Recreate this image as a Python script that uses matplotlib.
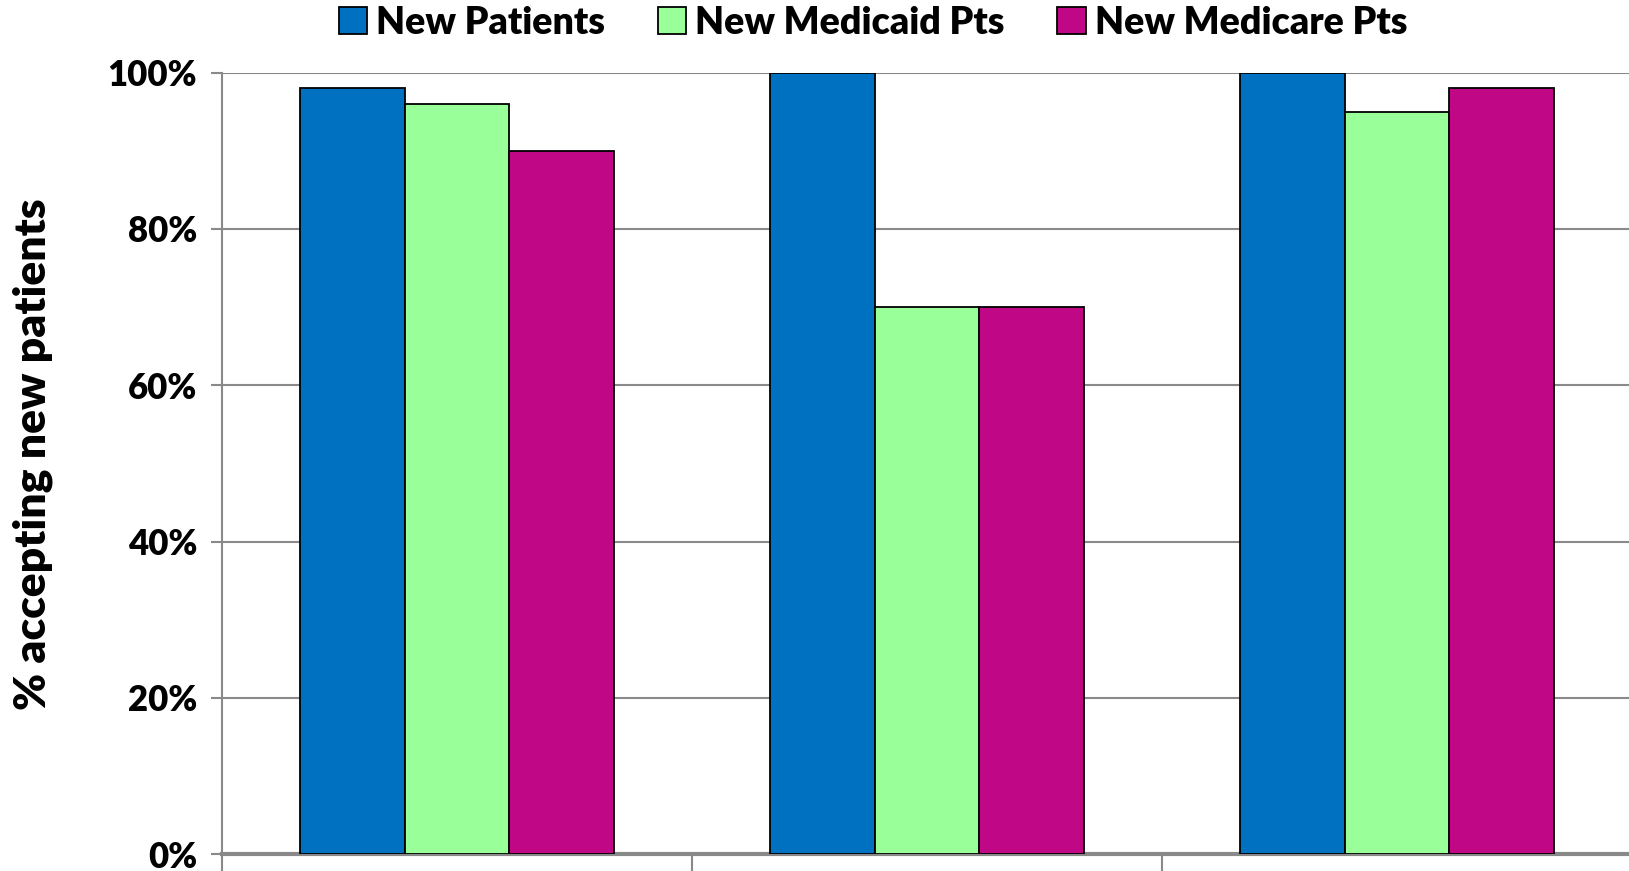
import matplotlib
matplotlib.use("Agg")
import matplotlib.pyplot as plt
import numpy as np
from matplotlib.ticker import FuncFormatter
from matplotlib.patches import Patch

categories = ["Primary Care", "Specialists", "All Physicians"]
series_names = ["New Patients", "New Medicaid Pts", "New Medicare Pts"]
new_patients = [98, 100, 100]
new_medicaid = [96, 70, 95]
new_medicare = [90, 70, 98]

blue = '#0070c0'
green = '#99ff99'
magenta = '#c00886'
gray = '#898989'

plt.rcParams['font.family'] = ['Lato', 'DejaVu Sans']
wt = 'heavy'

fig = plt.figure(figsize=(16.29, 8.71), dpi=100)
ax = fig.add_axes([0.1363, 0.0195, 0.8655, 0.897])

x = np.arange(len(categories))
w = 0.2225
for i, (vals, col) in enumerate(zip([new_patients, new_medicaid, new_medicare],
                                    [blue, green, magenta])):
    ax.bar(x + (i - 1) * w, vals, w, color=col, edgecolor='black',
           linewidth=1.3, zorder=3, label=series_names[i])

ax.set_xlim(-0.5, len(categories) - 0.5)
ax.set_ylim(0, 100)
ax.set_yticks(range(0, 101, 20))
ax.yaxis.set_major_formatter(FuncFormatter(lambda y, pos: "%d%%" % y))
ax.yaxis.grid(True, color=gray, linewidth=1.5, zorder=0)
for lab in ax.get_yticklabels():
    lab.set_fontweight(wt)
    lab.set_fontsize(25)
ax.tick_params(axis='y', length=8, width=1.5, color=gray, pad=10)

# category separators below axis
ax.set_xticks(np.arange(len(categories) + 1) - 0.5)
ax.set_xticklabels([])
ax.tick_params(axis='x', length=40, width=1.5, color=gray, direction='out')
for i, c in enumerate(categories):
    ax.text(i, -3.9, c, ha='center', va='top', fontsize=26,
            fontweight=wt, transform=ax.transData, clip_on=False)

for s in ['top', 'right']:
    ax.spines[s].set_visible(False)
ax.spines['left'].set_color(gray)
ax.spines['left'].set_linewidth(1.5)
ax.spines['bottom'].set_color(gray)
ax.spines['bottom'].set_linewidth(3)

ax.set_ylabel("% accepting new patients", fontsize=32, fontweight=wt,
              labelpad=39)
ax.yaxis.label.set_y(0.512)

handles = [Patch(facecolor=c, edgecolor='black', linewidth=1.3)
           for c in [blue, green, magenta]]
fig.legend(handles, series_names, loc='center', bbox_to_anchor=(0.536, 0.974),
           ncol=3, frameon=False, prop={'weight': wt, 'size': 27},
           handlelength=0.75, handleheight=0.75, handletextpad=0.25,
           columnspacing=1.4)

fig.savefig("out.png", dpi=100)
